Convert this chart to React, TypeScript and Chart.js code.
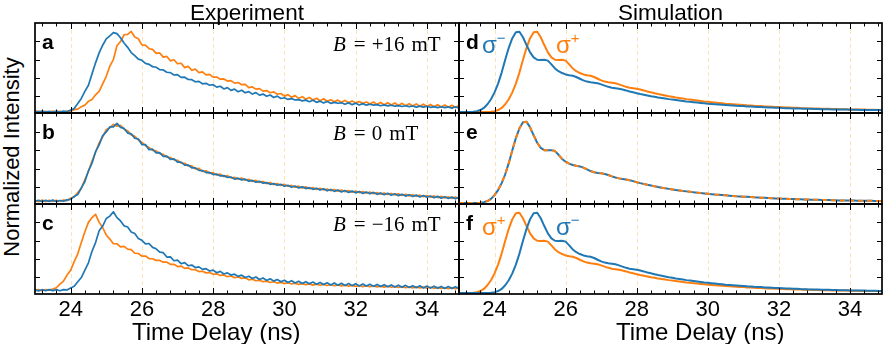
import React, { useEffect, useRef } from "react";
import { Chart, registerables } from "chart.js";
Chart.register(...registerables);

// ---------- data ----------
const TIME = [
  23.0, 23.1, 23.2, 23.3, 23.4, 23.5, 23.6, 23.7, 23.8, 23.9,
  24.0, 24.1, 24.2, 24.3, 24.4, 24.5, 24.6, 24.7, 24.8, 24.9,
  25.0, 25.1, 25.2, 25.3, 25.4, 25.5, 25.6, 25.7, 25.8, 25.9,
  26.0, 26.1, 26.2, 26.3, 26.4, 26.5, 26.6, 26.7, 26.8, 26.9,
  27.0, 27.1, 27.2, 27.3, 27.4, 27.5, 27.6, 27.7, 27.8, 27.9,
  28.0, 28.1, 28.2, 28.3, 28.4, 28.5, 28.6, 28.7, 28.8, 28.9,
  29.0, 29.1, 29.2, 29.3, 29.4, 29.5, 29.6, 29.7, 29.8, 29.9,
  30.0, 30.1, 30.2, 30.3, 30.4, 30.5, 30.6, 30.7, 30.8, 30.9,
  31.0, 31.1, 31.2, 31.3, 31.4, 31.5, 31.6, 31.7, 31.8, 31.9,
  32.0, 32.1, 32.2, 32.3, 32.4, 32.5, 32.6, 32.7, 32.8, 32.9,
  33.0, 33.1, 33.2, 33.3, 33.4, 33.5, 33.6, 33.7, 33.8, 33.9,
  34.0, 34.1, 34.2, 34.3, 34.4, 34.5, 34.6, 34.7, 34.8, 34.9,
  35.0,
];

// Experiment, B = +16 mT
const expPlusBlue = [
  0.040, 0.029, 0.041, 0.030, 0.038, 0.027, 0.040, 0.031, 0.042, 0.033,
  0.052, 0.068, 0.124, 0.178, 0.255, 0.322, 0.446, 0.566, 0.675, 0.758,
  0.828, 0.860, 0.895, 0.884, 0.840, 0.782, 0.735, 0.678, 0.645, 0.606,
  0.594, 0.560, 0.550, 0.524, 0.518, 0.492, 0.489, 0.464, 0.460, 0.434,
  0.437, 0.408, 0.410, 0.385, 0.383, 0.360, 0.364, 0.338, 0.343, 0.322,
  0.328, 0.302, 0.311, 0.282, 0.296, 0.266, 0.280, 0.252, 0.268, 0.240,
  0.253, 0.226, 0.242, 0.214, 0.226, 0.202, 0.216, 0.189, 0.204, 0.178,
  0.186, 0.168, 0.176, 0.162, 0.166, 0.152, 0.160, 0.143, 0.158, 0.136,
  0.149, 0.130, 0.145, 0.125, 0.136, 0.126, 0.131, 0.116, 0.132, 0.111,
  0.127, 0.107, 0.122, 0.105, 0.115, 0.106, 0.111, 0.099, 0.108, 0.097,
  0.105, 0.094, 0.101, 0.091, 0.099, 0.089, 0.096, 0.084, 0.095, 0.084,
  0.093, 0.082, 0.090, 0.079, 0.088, 0.078, 0.086, 0.073, 0.088, 0.071,
  0.083,
];
const expPlusOrange = [
  0.029, 0.040, 0.026, 0.039, 0.028, 0.041, 0.027, 0.038, 0.029, 0.040,
  0.038, 0.056, 0.062, 0.089, 0.106, 0.147, 0.167, 0.218, 0.256, 0.338,
  0.420, 0.530, 0.602, 0.752, 0.798, 0.872, 0.876, 0.908, 0.848, 0.828,
  0.762, 0.758, 0.720, 0.712, 0.670, 0.674, 0.628, 0.636, 0.588, 0.600,
  0.556, 0.562, 0.514, 0.528, 0.485, 0.498, 0.460, 0.468, 0.436, 0.440,
  0.411, 0.412, 0.388, 0.391, 0.368, 0.372, 0.345, 0.352, 0.328, 0.332,
  0.296, 0.304, 0.280, 0.286, 0.258, 0.264, 0.241, 0.250, 0.224, 0.232,
  0.204, 0.220, 0.191, 0.209, 0.180, 0.198, 0.170, 0.188, 0.162, 0.180,
  0.153, 0.175, 0.148, 0.165, 0.142, 0.160, 0.136, 0.157, 0.131, 0.152,
  0.128, 0.144, 0.126, 0.140, 0.118, 0.139, 0.114, 0.135, 0.110, 0.132,
  0.107, 0.128, 0.103, 0.125, 0.100, 0.122, 0.097, 0.119, 0.094, 0.116,
  0.091, 0.113, 0.088, 0.110, 0.085, 0.107, 0.082, 0.104, 0.079, 0.101,
  0.078,
];

// Experiment, B = 0 mT
const expZeroBlue = [
  0.047, 0.060, 0.046, 0.059, 0.048, 0.062, 0.046, 0.058, 0.051, 0.064,
  0.069, 0.101, 0.122, 0.194, 0.262, 0.378, 0.460, 0.584, 0.656, 0.756,
  0.796, 0.850, 0.850, 0.888, 0.845, 0.834, 0.784, 0.776, 0.728, 0.720,
  0.660, 0.660, 0.604, 0.610, 0.570, 0.574, 0.532, 0.536, 0.500, 0.506,
  0.470, 0.470, 0.438, 0.440, 0.410, 0.409, 0.382, 0.380, 0.358, 0.360,
  0.337, 0.342, 0.322, 0.326, 0.306, 0.311, 0.288, 0.298, 0.280, 0.287,
  0.266, 0.274, 0.254, 0.264, 0.244, 0.251, 0.232, 0.240, 0.222, 0.232,
  0.211, 0.222, 0.200, 0.214, 0.192, 0.205, 0.186, 0.196, 0.178, 0.190,
  0.170, 0.184, 0.162, 0.177, 0.156, 0.171, 0.150, 0.165, 0.145, 0.159,
  0.140, 0.154, 0.134, 0.149, 0.130, 0.145, 0.124, 0.139, 0.120, 0.135,
  0.115, 0.130, 0.110, 0.125, 0.105, 0.120, 0.101, 0.116, 0.096, 0.111,
  0.092, 0.106, 0.088, 0.102, 0.083, 0.098, 0.079, 0.094, 0.076, 0.091,
  0.073,
];
const expZeroOrange = [
  0.060, 0.045, 0.062, 0.046, 0.061, 0.047, 0.060, 0.050, 0.062, 0.055,
  0.084, 0.096, 0.144, 0.188, 0.284, 0.370, 0.482, 0.577, 0.678, 0.744,
  0.820, 0.840, 0.878, 0.858, 0.868, 0.826, 0.808, 0.764, 0.750, 0.710,
  0.683, 0.648, 0.628, 0.598, 0.592, 0.562, 0.554, 0.524, 0.521, 0.495,
  0.491, 0.460, 0.459, 0.429, 0.431, 0.399, 0.403, 0.370, 0.378, 0.349,
  0.358, 0.331, 0.342, 0.315, 0.326, 0.300, 0.308, 0.287, 0.299, 0.276,
  0.286, 0.263, 0.274, 0.252, 0.263, 0.240, 0.252, 0.229, 0.241, 0.220,
  0.231, 0.210, 0.220, 0.201, 0.212, 0.192, 0.205, 0.184, 0.197, 0.177,
  0.189, 0.171, 0.182, 0.164, 0.176, 0.158, 0.170, 0.152, 0.165, 0.146,
  0.159, 0.143, 0.154, 0.136, 0.149, 0.131, 0.144, 0.126, 0.139, 0.122,
  0.134, 0.117, 0.129, 0.112, 0.124, 0.107, 0.120, 0.103, 0.115, 0.098,
  0.111, 0.093, 0.107, 0.089, 0.102, 0.085, 0.098, 0.081, 0.095, 0.078,
  0.092,
];

// Experiment, B = -16 mT
const expMinusBlue = [
  0.066, 0.054, 0.067, 0.056, 0.068, 0.057, 0.067, 0.056, 0.068, 0.064,
  0.086, 0.104, 0.154, 0.199, 0.280, 0.360, 0.486, 0.580, 0.708, 0.760,
  0.842, 0.868, 0.915, 0.852, 0.815, 0.762, 0.750, 0.695, 0.678, 0.625,
  0.604, 0.566, 0.570, 0.528, 0.512, 0.476, 0.470, 0.422, 0.425, 0.382,
  0.388, 0.350, 0.362, 0.328, 0.335, 0.308, 0.315, 0.288, 0.296, 0.270,
  0.280, 0.252, 0.266, 0.238, 0.250, 0.226, 0.236, 0.212, 0.225, 0.200,
  0.214, 0.188, 0.205, 0.178, 0.195, 0.168, 0.186, 0.160, 0.178, 0.153,
  0.170, 0.146, 0.165, 0.140, 0.159, 0.135, 0.154, 0.131, 0.150, 0.126,
  0.146, 0.123, 0.142, 0.119, 0.140, 0.116, 0.137, 0.113, 0.134, 0.111,
  0.131, 0.108, 0.129, 0.106, 0.126, 0.103, 0.124, 0.101, 0.121, 0.098,
  0.119, 0.096, 0.116, 0.093, 0.114, 0.091, 0.111, 0.089, 0.109, 0.086,
  0.107, 0.084, 0.105, 0.082, 0.103, 0.080, 0.101, 0.079, 0.099, 0.077,
  0.097,
];
const expMinusOrange = [
  0.057, 0.068, 0.055, 0.067, 0.062, 0.074, 0.088, 0.128, 0.161, 0.226,
  0.278, 0.372, 0.458, 0.582, 0.698, 0.800, 0.852, 0.888, 0.800, 0.744,
  0.662, 0.618, 0.568, 0.567, 0.534, 0.538, 0.509, 0.504, 0.464, 0.461,
  0.432, 0.434, 0.406, 0.404, 0.386, 0.386, 0.366, 0.366, 0.343, 0.344,
  0.319, 0.324, 0.299, 0.304, 0.284, 0.285, 0.264, 0.268, 0.250, 0.253,
  0.234, 0.240, 0.222, 0.228, 0.209, 0.216, 0.198, 0.205, 0.190, 0.196,
  0.174, 0.181, 0.164, 0.169, 0.154, 0.160, 0.145, 0.153, 0.139, 0.147,
  0.134, 0.142, 0.129, 0.137, 0.124, 0.133, 0.122, 0.130, 0.117, 0.127,
  0.115, 0.124, 0.113, 0.121, 0.110, 0.119, 0.108, 0.116, 0.105, 0.114,
  0.103, 0.112, 0.101, 0.110, 0.099, 0.108, 0.097, 0.106, 0.095, 0.104,
  0.093, 0.102, 0.091, 0.100, 0.089, 0.098, 0.087, 0.097, 0.086, 0.095,
  0.084, 0.093, 0.082, 0.092, 0.081, 0.090, 0.079, 0.089, 0.078, 0.088,
  0.077,
];

// Simulation: early-peaking component
const simEarly = [
  0.030, 0.030, 0.031, 0.032, 0.034, 0.040, 0.052, 0.075, 0.115, 0.170,
  0.245, 0.340, 0.460, 0.600, 0.730, 0.835, 0.900, 0.905, 0.845, 0.760,
  0.680, 0.625, 0.600, 0.598, 0.600, 0.590, 0.550, 0.505, 0.475, 0.455,
  0.440, 0.432, 0.425, 0.412, 0.393, 0.375, 0.362, 0.355, 0.350, 0.343,
  0.332, 0.318, 0.305, 0.296, 0.290, 0.284, 0.276, 0.266, 0.255, 0.245,
  0.236, 0.227, 0.219, 0.211, 0.203, 0.196, 0.189, 0.183, 0.177, 0.171,
  0.166, 0.161, 0.156, 0.151, 0.146, 0.142, 0.138, 0.134, 0.130, 0.126,
  0.122, 0.119, 0.116, 0.113, 0.110, 0.107, 0.104, 0.102, 0.099, 0.097,
  0.095, 0.092, 0.090, 0.088, 0.086, 0.084, 0.082, 0.080, 0.079, 0.077,
  0.076, 0.074, 0.073, 0.071, 0.070, 0.069, 0.068, 0.067, 0.066, 0.065,
  0.064, 0.063, 0.062, 0.061, 0.060, 0.059, 0.059, 0.058, 0.057, 0.057,
  0.056, 0.055, 0.055, 0.054, 0.054, 0.053, 0.053, 0.052, 0.052, 0.051,
  0.051,
];
// Simulation: late-peaking component
const simLate = [
  0.030, 0.030, 0.030, 0.030, 0.030, 0.030, 0.030, 0.031, 0.032, 0.034,
  0.040, 0.052, 0.075, 0.115, 0.170, 0.245, 0.340, 0.460, 0.600, 0.730,
  0.835, 0.900, 0.905, 0.845, 0.760, 0.680, 0.625, 0.600, 0.598, 0.600,
  0.590, 0.550, 0.505, 0.475, 0.455, 0.440, 0.432, 0.425, 0.412, 0.393,
  0.375, 0.362, 0.355, 0.350, 0.343, 0.332, 0.318, 0.305, 0.296, 0.290,
  0.284, 0.276, 0.266, 0.255, 0.245, 0.236, 0.227, 0.219, 0.211, 0.203,
  0.196, 0.189, 0.183, 0.177, 0.171, 0.166, 0.161, 0.156, 0.151, 0.146,
  0.142, 0.138, 0.134, 0.130, 0.126, 0.122, 0.119, 0.116, 0.113, 0.110,
  0.107, 0.104, 0.102, 0.099, 0.097, 0.095, 0.092, 0.090, 0.088, 0.086,
  0.084, 0.082, 0.080, 0.079, 0.077, 0.076, 0.074, 0.073, 0.071, 0.070,
  0.069, 0.068, 0.067, 0.066, 0.065, 0.064, 0.063, 0.062, 0.061, 0.060,
  0.059, 0.059, 0.058, 0.057, 0.057, 0.056, 0.055, 0.055, 0.054, 0.054,
  0.053,
];
// Simulation: zero field (both polarisations identical)
const simZero = [
  0.030, 0.030, 0.030, 0.030, 0.031, 0.032, 0.034, 0.040, 0.052, 0.075,
  0.115, 0.170, 0.245, 0.340, 0.460, 0.600, 0.730, 0.835, 0.900, 0.905,
  0.845, 0.760, 0.680, 0.625, 0.600, 0.598, 0.600, 0.590, 0.550, 0.505,
  0.475, 0.455, 0.440, 0.432, 0.425, 0.412, 0.393, 0.375, 0.362, 0.355,
  0.350, 0.343, 0.332, 0.318, 0.305, 0.296, 0.290, 0.284, 0.276, 0.266,
  0.255, 0.245, 0.236, 0.227, 0.219, 0.211, 0.203, 0.196, 0.189, 0.183,
  0.177, 0.171, 0.166, 0.161, 0.156, 0.151, 0.146, 0.142, 0.138, 0.134,
  0.130, 0.126, 0.122, 0.119, 0.116, 0.113, 0.110, 0.107, 0.104, 0.102,
  0.099, 0.097, 0.095, 0.092, 0.090, 0.088, 0.086, 0.084, 0.082, 0.080,
  0.079, 0.077, 0.076, 0.074, 0.073, 0.071, 0.070, 0.069, 0.068, 0.067,
  0.066, 0.065, 0.064, 0.063, 0.062, 0.061, 0.060, 0.059, 0.059, 0.058,
  0.057, 0.057, 0.056, 0.055, 0.055, 0.054, 0.054, 0.053, 0.053, 0.052,
  0.052,
];

const X_TICKS = [24, 26, 28, 30, 32, 34];
const Y_TICKS = [0.2, 0.4, 0.6, 0.8];
const X_MIN = 23;
const X_MAX = 34.9;
const Y_MIN = 0.02;
const Y_MAX = 1.0;

// ---------- style / layout ----------
const BLUE = "#1f77b4";
const ORANGE = "#ff7f0e";
const SANS = '"Liberation Sans", Arial, Helvetica, sans-serif';
const SERIF = '"Liberation Serif", "Times New Roman", serif';
const COL_X = [35, 459];
const COL_W = [424, 423];
const ROW_Y = [23, 113, 204];
const ROW_H = [90, 91, 90];
const PAD = 4;
const LABEL_SPACE = 30;

type Series = { values: number[]; color: string; width: number; dash?: number[] };
type Panel = { col: number; row: number; series: Series[] };

const PANELS: Panel[] = [
  { col: 0, row: 0, series: [
    { values: expPlusBlue, color: BLUE, width: 1.7 },
    { values: expPlusOrange, color: ORANGE, width: 1.7 },
  ] },
  { col: 0, row: 1, series: [
    { values: expZeroBlue, color: BLUE, width: 1.7 },
    { values: expZeroOrange, color: ORANGE, width: 1.7 },
  ] },
  { col: 0, row: 2, series: [
    { values: expMinusBlue, color: BLUE, width: 1.7 },
    { values: expMinusOrange, color: ORANGE, width: 1.7 },
  ] },
  { col: 1, row: 0, series: [
    { values: simEarly, color: BLUE, width: 2 },
    { values: simLate, color: ORANGE, width: 2 },
  ] },
  { col: 1, row: 1, series: [
    { values: simZero, color: ORANGE, width: 2, dash: [5, 4] },
    { values: simZero, color: BLUE, width: 2 },
  ] },
  { col: 1, row: 2, series: [
    { values: simLate, color: BLUE, width: 2 },
    { values: simEarly, color: ORANGE, width: 2 },
  ] },
];

const decor = {
  id: "decor",
  beforeDatasetsDraw(chart: any) {
    const { ctx, chartArea: a, scales } = chart;
    const x = scales.x;
    ctx.save();
    ctx.strokeStyle = "rgba(246, 196, 110, 0.55)";
    ctx.lineWidth = 0.9;
    ctx.setLineDash([4, 3]);
    X_TICKS.forEach((v) => {
      const px = Math.round(x.getPixelForValue(v)) + 0.5;
      ctx.beginPath();
      ctx.moveTo(px, a.top);
      ctx.lineTo(px, a.bottom);
      ctx.stroke();
    });
    ctx.restore();
  },
  afterDatasetsDraw(chart: any, _args: any, opts: any) {
    const { ctx, chartArea: a, scales } = chart;
    const x = scales.x;
    const y = scales.y;
    ctx.save();
    ctx.strokeStyle = "#000";
    ctx.lineWidth = 1;
    for (let k = 0; k < 30; k++) {
      const v = 23.2 + k * 0.4;
      if (v > X_MAX) break;
      const major = X_TICKS.some((t) => Math.abs(t - v) < 1e-6);
      const len = major ? 6 : 3.5;
      const px = Math.round(x.getPixelForValue(v)) + 0.5;
      ctx.beginPath();
      ctx.moveTo(px, a.bottom);
      ctx.lineTo(px, a.bottom - len);
      ctx.moveTo(px, a.top);
      ctx.lineTo(px, a.top + len);
      ctx.stroke();
    }
    Y_TICKS.forEach((v) => {
      const py = Math.round(y.getPixelForValue(v)) + 0.5;
      ctx.beginPath();
      ctx.moveTo(a.left, py);
      ctx.lineTo(a.left + 5, py);
      ctx.moveTo(a.right, py);
      ctx.lineTo(a.right - 5, py);
      ctx.stroke();
    });
    ctx.lineWidth = 1.7;
    ctx.strokeRect(a.left, a.top, a.right - a.left, a.bottom - a.top);
    if (opts && opts.labels) {
      ctx.fillStyle = "#000";
      ctx.font = `22px ${SANS}`;
      ctx.textAlign = "center";
      ctx.textBaseline = "alphabetic";
      X_TICKS.forEach((v) => {
        ctx.fillText(String(v), x.getPixelForValue(v), a.bottom + 22);
      });
    }
    ctx.restore();
  },
};

function PanelChart({ panel }: { panel: Panel }) {
  const ref = useRef<HTMLCanvasElement | null>(null);
  const labels = panel.row === 2;
  const w = COL_W[panel.col];
  const h = ROW_H[panel.row];
  const cw = w + 2 * PAD;
  const ch = h + 2 * PAD + (labels ? LABEL_SPACE : 0);
  useEffect(() => {
    if (!ref.current) return;
    const chart = new Chart(ref.current, {
      type: "line",
      data: {
        datasets: panel.series.map((s) => ({
          data: TIME.map((t, i) => ({ x: t, y: s.values[i] })),
          borderColor: s.color,
          borderWidth: s.width,
          borderDash: s.dash || [],
          borderJoinStyle: "round",
          pointRadius: 0,
          tension: 0,
          fill: false,
          clip: 0,
        })),
      },
      options: {
        responsive: false,
        animation: false,
        devicePixelRatio: 1,
        events: [],
        layout: { padding: { left: PAD, right: PAD, top: PAD, bottom: PAD + (labels ? LABEL_SPACE : 0) } },
        scales: {
          x: { type: "linear", min: X_MIN, max: X_MAX, display: false },
          y: { type: "linear", min: Y_MIN, max: Y_MAX, display: false },
        },
        plugins: {
          legend: { display: false },
          tooltip: { enabled: false },
          decor: { labels },
        } as any,
      },
      plugins: [decor],
    } as any);
    return () => chart.destroy();
  }, []);
  return (
    <canvas
      ref={ref}
      width={cw}
      height={ch}
      style={{ position: "absolute", left: COL_X[panel.col] - PAD, top: ROW_Y[panel.row] - PAD, width: cw, height: ch }}
    />
  );
}

const abs = (s: any): any => ({ position: "absolute", whiteSpace: "nowrap", lineHeight: 1, ...s });

function Sigma({ sign, color, left, top }: { sign: string; color: string; left: number; top: number }) {
  return (
    <div style={abs({ left, top, color, font: `24px ${SANS}` })}>
      σ<span style={{ fontSize: 15, position: "relative", top: -10 }}>{sign}</span>
    </div>
  );
}

function BLabel({ value, top }: { value: string; top: number }) {
  return (
    <div style={abs({ left: 333, top, font: `21px ${SERIF}`, color: "#000" })}>
      <i>B</i>
      <span style={{ marginLeft: 8 }}>=</span>
      <span style={{ marginLeft: 6 }}>{value}</span>
      <span style={{ marginLeft: 7 }}>mT</span>
    </div>
  );
}

export default function App() {
  const letters = [
    { t: "a", l: 42, row: 0 }, { t: "b", l: 42, row: 1 }, { t: "c", l: 42, row: 2 },
    { t: "d", l: 466, row: 0 }, { t: "e", l: 466, row: 1 }, { t: "f", l: 466, row: 2 },
  ];
  return (
    <div style={{ position: "fixed", left: 0, top: 0, width: 886, height: 344, background: "#fff", overflow: "hidden" }}>
      {PANELS.map((p, i) => (
        <PanelChart key={i} panel={p} />
      ))}
      <div style={abs({ left: 35, width: 424, top: 0, textAlign: "center", font: `22.5px ${SANS}` })}>Experiment</div>
      <div style={abs({ left: 459, width: 423, top: 0, textAlign: "center", font: `22.5px ${SANS}` })}>Simulation</div>
      <div style={abs({ left: 132, top: 318, font: `24px ${SANS}` })}>Time Delay (ns)</div>
      <div style={abs({ left: 616, top: 318, font: `24px ${SANS}` })}>Time Delay (ns)</div>
      <div
        style={abs({
          left: 9.5 - 150,
          top: 157 - 11,
          width: 300,
          height: 22,
          textAlign: "center",
          font: `22px ${SANS}`,
          transform: "rotate(-90deg)",
        })}
      >
        Normalized Intensity
      </div>
      {letters.map((L) => (
        <div key={L.t} style={abs({ left: L.l, top: ROW_Y[L.row] + 25 - 17.8, font: `bold 21px ${SANS}` })}>{L.t}</div>
      ))}
      <BLabel value="+16" top={ROW_Y[0] + 26 - 17.5} />
      <BLabel value="0" top={ROW_Y[1] + 25 - 17.5} />
      <BLabel value="−16" top={ROW_Y[2] + 25 - 17.5} />
      <Sigma sign="−" color={BLUE} left={482} top={ROW_Y[0] + 28 - 20.3} />
      <Sigma sign="+" color={ORANGE} left={556} top={ROW_Y[0] + 28 - 20.3} />
      <Sigma sign="+" color={ORANGE} left={482} top={ROW_Y[2] + 29 - 20.3} />
      <Sigma sign="−" color={BLUE} left={556} top={ROW_Y[2] + 29 - 20.3} />
    </div>
  );
}
